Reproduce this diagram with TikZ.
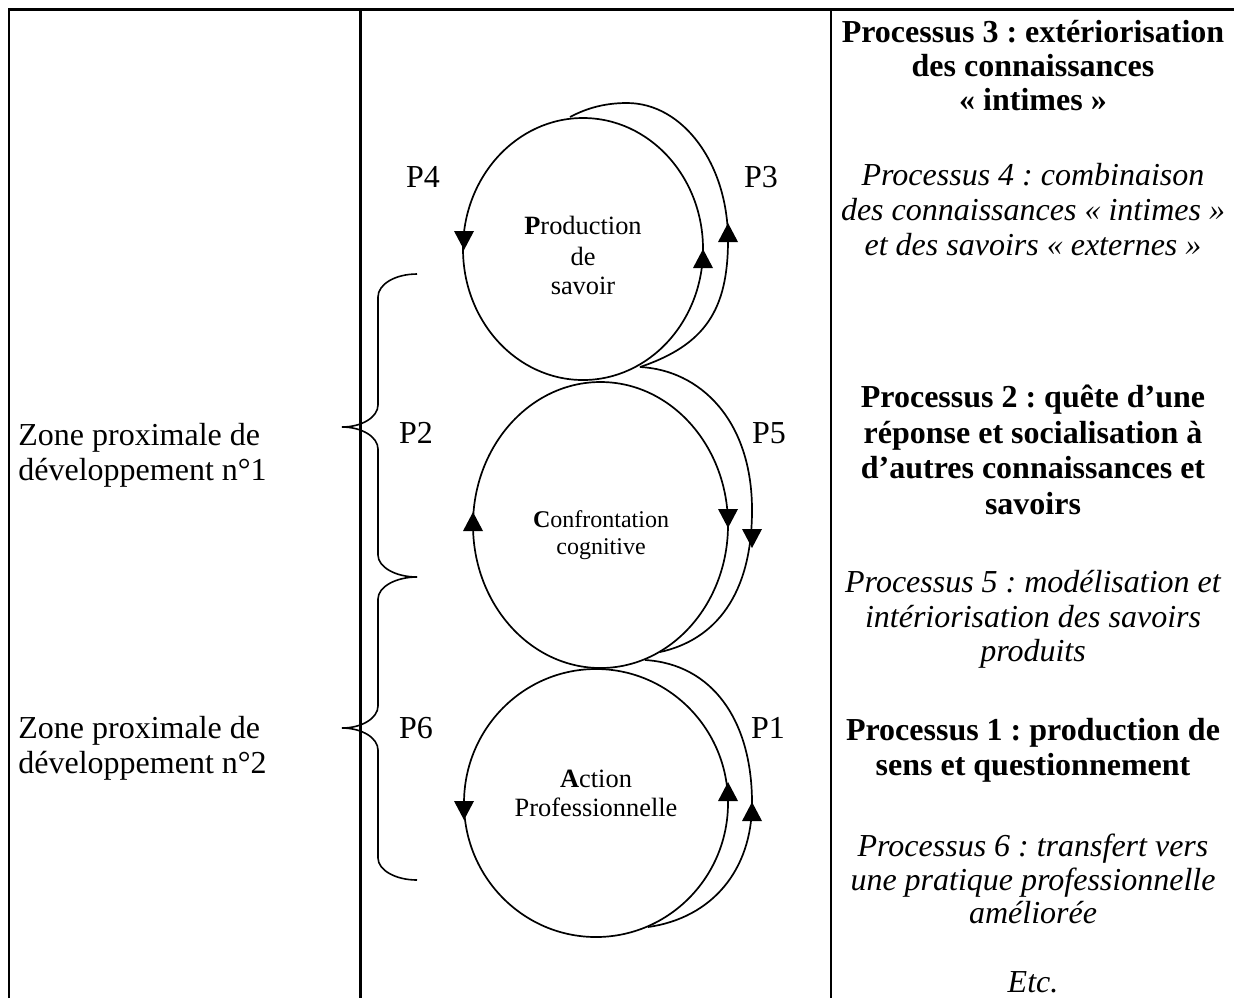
\documentclass[tikz,border=0pt]{standalone}
\usepackage{fontspec}
\setmainfont{Liberation Serif}
\frenchspacing
\begin{document}
\begin{tikzpicture}[x=0.5pt,y=-0.5pt,
  rule/.style={line width=1.15pt},
  loop/.style={line width=0.85pt},
  brace/.style={line width=0.8pt},
  txt/.style={inner sep=0pt, anchor=base, font=\fontsize{16}{19}\selectfont},
  lefttxt/.style={txt, anchor=base west},
  boldtxt/.style={txt, font=\fontsize{16}{19}\selectfont\bfseries},
  itxt/.style={txt, font=\fontsize{16}{19}\selectfont\itshape},
  inbig/.style={inner sep=0pt, anchor=base, font=\fontsize{13.2}{15}\selectfont},
  insmall/.style={inner sep=0pt, anchor=base, font=\fontsize{12}{14}\selectfont},
  uptip/.pic={\fill (0,0) -- (-10,19) -- (10,19) -- cycle;},
  downtip/.pic={\fill (0,0) -- (-10,-19) -- (10,-19) -- cycle;}
]
\useasboundingbox (0,0) rectangle (1234,998);

% table rules
\draw[rule] (9,998) -- (9,9.5) -- (1234,9.5);
\draw[rule] (360.5,9.5) -- (360.5,998);
\draw[rule] (831,9.5) -- (831,998);

% left column
\node[lefttxt] (z1a) at (18,445) {Zone proximale de};
\node[lefttxt] (z1b) at (18,480) {développement n°1};
\node[lefttxt] (z2a) at (18,738) {Zone proximale de};
\node[lefttxt] (z2b) at (18,773) {développement n°2};

% braces
\draw[brace] (417,274) .. controls (395.5,274) and (378,284) .. (378,297)
  -- (378,405) .. controls (378,417) and (362,427) .. (342,427)
  .. controls (362,427) and (378,437) .. (378,449)
  -- (378,555) .. controls (378,567) and (395.5,577) .. (417,577);
\draw[brace] (417,577) .. controls (395.5,577) and (378,587) .. (378,599)
  -- (378,706) .. controls (378,718) and (362,728) .. (342,728)
  .. controls (362,728) and (378,738) .. (378,750)
  -- (378,858) .. controls (378,870) and (395.5,880) .. (417,880);

% the three cycles
\draw[loop] (583,249) ellipse [x radius=60pt, y radius=65.5pt];
\draw[loop] (600.5,525) ellipse [x radius=63.75pt, y radius=71.5pt];
\draw[loop] (596,803) ellipse [x radius=66pt, y radius=67pt];

% outer return arcs
\draw[loop] (570,117) .. controls (587,108) and (605,103) .. (627,103)
  .. controls (683,103) and (728,164) .. (728,240)
  .. controls (728,310) and (705,345) .. (640,367);
\draw[loop] (640,367) .. controls (700,370) and (752,420) .. (752,510)
  .. controls (752,595) and (715,640) .. (660,652);
\draw[loop] (645,660) .. controls (712,664) and (752,720) .. (752,803)
  .. controls (752,870) and (712,918) .. (648,927);

% arrowheads
\pic at (464,250) {downtip};
\pic at (703,249) {uptip};
\pic at (728,223) {uptip};
\pic at (473,512) {uptip};
\pic at (728,528) {downtip};
\pic at (752,548) {downtip};
\pic at (464,820) {downtip};
\pic at (728,782) {uptip};
\pic at (752,802) {uptip};

% process labels
\node[txt] (p4) at (423,187) {P4};
\node[txt] (p3) at (761,187) {P3};
\node[txt] (p2) at (416,443) {P2};
\node[txt] (p5) at (769,443) {P5};
\node[txt] (p6) at (416,738) {P6};
\node[txt] (p1) at (768,738) {P1};

% texts inside the cycles
\node[inbig] (prod1) at (583,234) {\textbf{P}roduction};
\node[inbig] (prod2) at (583,265) {de};
\node[inbig] (prod3) at (583,294) {savoir};
\node[insmall] (conf1) at (601,527) {\textbf{C}onfrontation};
\node[insmall] (conf2) at (601,554) {cognitive};
\node[inbig] (act1) at (596,787) {\textbf{A}ction};
\node[inbig] (act2) at (596,816) {Professionnelle};

% right column
\node[boldtxt] (r1) at (1033,42) {Processus 3 : extériorisation};
\node[boldtxt] (r2) at (1033,76.5) {des connaissances};
\node[boldtxt] (r3) at (1033,110) {« intimes »};
\node[itxt] (r4) at (1033,185) {Processus 4 : combinaison};
\node[itxt] (r5) at (1033,220) {des connaissances « intimes »};
\node[itxt] (r6) at (1033,255) {et des savoirs « externes »};
\node[boldtxt] (r7) at (1033,407) {Processus 2 : quête d’une};
\node[boldtxt] (r8) at (1033,443) {réponse et socialisation à};
\node[boldtxt] (r9) at (1033,478) {d’autres connaissances et};
\node[boldtxt] (r10) at (1033,514) {savoirs};
\node[itxt] (r11) at (1033,592) {Processus 5 : modélisation et};
\node[itxt] (r12) at (1033,627) {intériorisation des savoirs};
\node[itxt] (r13) at (1033,661) {produits};
\node[boldtxt] (r14) at (1033,740) {Processus 1 : production de};
\node[boldtxt] (r15) at (1033,775) {sens et questionnement};
\node[itxt] (r16) at (1033,856) {Processus 6 : transfert vers};
\node[itxt] (r17) at (1033,890) {une pratique professionnelle};
\node[itxt] (r18) at (1033,923) {améliorée};
\node[itxt] (r19) at (1033,992) {Etc.};
\end{tikzpicture}
\end{document}
